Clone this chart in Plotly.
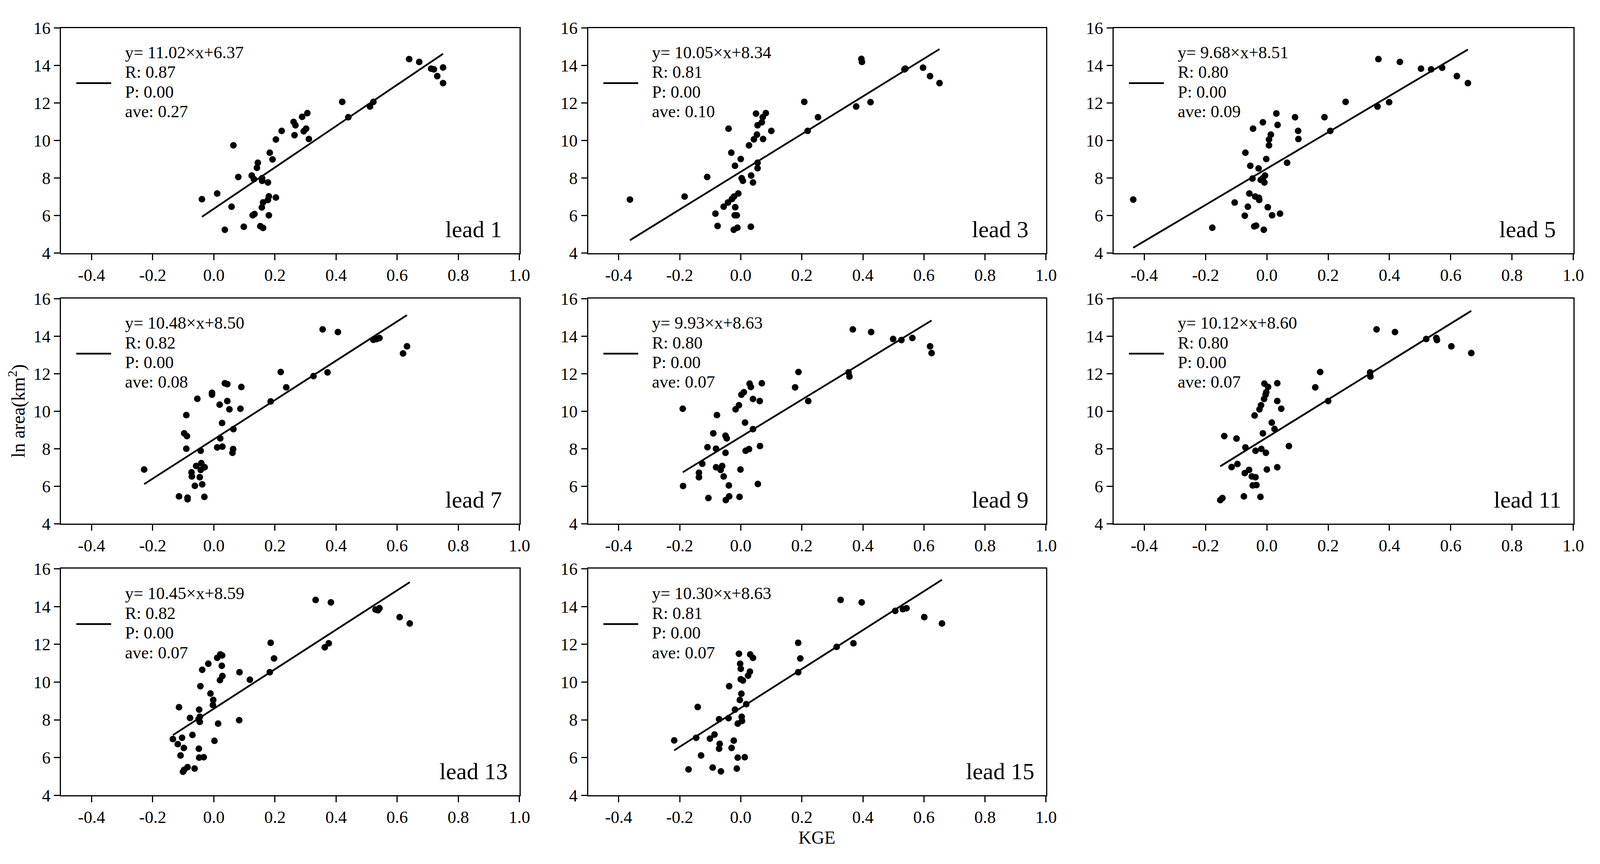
import plotly.graph_objects as go

# KGE (x) and ln area (y) per lead time
kge_1 = [0.639, 0.672, 0.711, 0.720, 0.750, 0.731, 0.750, 0.420, 0.522, 0.511, 0.440, 0.306, 0.289, 0.261, 0.267, 0.302,
         0.294, 0.222, 0.264, 0.311, 0.203, 0.064, 0.183, 0.192, 0.144, 0.141, 0.080, 0.124, 0.131, 0.158, 0.158, 0.177,
         0.011, -0.039, 0.180, 0.203, 0.177, 0.161, 0.058, 0.157, 0.127, 0.133, 0.180, 0.098, 0.036, 0.152, 0.161]
area_1 = [14.35, 14.20, 13.84, 13.80, 13.90, 13.44, 13.07, 12.07, 12.07, 11.82, 11.25, 11.47, 11.27, 11.00, 10.82, 10.64,
          10.50, 10.52, 10.29, 10.09, 10.06, 9.75, 9.36, 9.00, 8.82, 8.55, 8.06, 8.14, 7.95, 8.00, 7.86, 7.77,
          7.18, 6.88, 7.03, 6.97, 6.84, 6.71, 6.48, 6.44, 6.02, 6.09, 6.02, 5.41, 5.25, 5.44, 5.35]

kge_3 = [-0.363, -0.184, -0.110, -0.083, -0.076, -0.056, -0.042, -0.040, -0.031, -0.029, -0.022, -0.019, -0.018, -0.020,
         -0.013, -0.023, -0.011, -0.008, 0.000, 0.003, 0.007, 0.027, 0.034, 0.040, 0.033, 0.043, 0.050, 0.053, 0.055,
         0.055, 0.055, 0.069, 0.072, 0.082, 0.073, 0.100, 0.208, 0.219, 0.253, 0.378, 0.395, 0.397, 0.425, 0.536, 0.539,
         0.597, 0.620, 0.651]
area_3 = [6.86, 7.02, 8.06, 6.11, 5.45, 6.48, 6.70, 10.64, 9.36, 6.89, 7.02, 8.66, 6.45, 6.02, 6.02, 5.25, 5.36, 7.18,
          9.02, 8.00, 7.86, 9.75, 8.14, 7.77, 5.41, 10.07, 11.44, 10.32, 10.82, 8.82, 8.53, 10.98, 11.25, 11.47, 10.09,
          10.52, 12.07, 10.52, 11.25, 11.82, 14.36, 14.20, 12.05, 13.80, 13.84, 13.89, 13.44, 13.07]

kge_5 = [-0.436, -0.178, -0.105, -0.072, -0.070, -0.062, -0.057, -0.054, -0.045, -0.047, -0.041, -0.035, -0.038, -0.026,
         -0.025, -0.027, -0.020, -0.013, -0.013, -0.010, -0.008, -0.006, -0.002, 0.003, 0.007, 0.007, 0.013, 0.017, 0.031,
         0.035, 0.043, 0.066, 0.092, 0.102, 0.103, 0.188, 0.207, 0.257, 0.361, 0.364, 0.399, 0.434, 0.503, 0.536, 0.572,
         0.620, 0.656]
area_5 = [6.86, 5.36, 6.70, 6.00, 9.36, 6.48, 7.18, 8.66, 10.64, 7.98, 5.43, 5.47, 7.02, 6.95, 6.84, 8.52, 7.91, 10.98,
          8.00, 5.25, 7.77, 8.14, 9.02, 6.45, 9.75, 10.06, 10.32, 6.02, 11.45, 10.84, 6.11, 8.82, 11.25, 10.52, 10.09,
          11.25, 10.52, 12.07, 11.82, 14.35, 12.05, 14.20, 13.84, 13.80, 13.89, 13.44, 13.07]

kge_7 = [-0.228, -0.114, -0.086, -0.086, -0.090, -0.097, -0.088, -0.090, -0.073, -0.072, -0.062, -0.058, -0.054, -0.046,
         -0.043, -0.041, -0.043, -0.038, -0.030, -0.031, -0.006, -0.006, 0.011, 0.019, 0.021, 0.027, 0.028, 0.036, 0.044,
         0.044, 0.051, 0.061, 0.063, 0.064, 0.087, 0.090, 0.186, 0.219, 0.237, 0.326, 0.356, 0.372, 0.406, 0.522, 0.533,
         0.542, 0.619, 0.632]
area_7 = [6.89, 5.46, 5.30, 5.39, 9.79, 8.82, 8.67, 8.00, 6.74, 6.52, 6.02, 7.08, 10.66, 6.48, 7.89, 7.23, 6.87, 6.10,
          7.01, 5.43, 10.98, 10.88, 8.07, 10.35, 8.55, 9.37, 8.11, 11.49, 11.44, 10.54, 10.10, 7.78, 7.98, 9.04, 10.13,
          11.29, 10.52, 12.09, 11.27, 11.87, 14.36, 12.07, 14.22, 13.81, 13.85, 13.90, 13.08, 13.46]

kge_9 = [-0.190, -0.189, -0.137, -0.137, -0.126, -0.109, -0.106, -0.090, -0.081, -0.081, -0.078, -0.066, -0.061, -0.056,
         -0.050, -0.046, -0.050, -0.049, -0.039, -0.038, -0.017, -0.006, -0.004, -0.001, 0.002, 0.010, 0.014, 0.016, 0.027,
         0.029, 0.033, 0.040, 0.040, 0.056, 0.062, 0.063, 0.069, 0.178, 0.189, 0.221, 0.353, 0.356, 0.367, 0.427, 0.499,
         0.526, 0.562, 0.620, 0.625]
area_9 = [10.13, 6.01, 6.72, 6.48, 7.20, 8.08, 5.37, 8.82, 8.00, 7.01, 9.79, 6.87, 7.08, 6.52, 8.69, 8.55, 7.78, 5.26,
          6.04, 5.46, 10.10, 10.32, 5.43, 6.89, 10.88, 11.01, 9.39, 7.89, 7.98, 11.47, 11.29, 9.04, 10.65, 6.12, 10.54,
          8.14, 11.49, 11.27, 12.09, 10.54, 12.07, 11.85, 14.36, 14.22, 13.85, 13.79, 13.90, 13.46, 13.10]

kge_11 = [-0.152, -0.145, -0.139, -0.115, -0.099, -0.096, -0.075, -0.072, -0.070, -0.058, -0.049, -0.046, -0.040, -0.037,
          -0.037, -0.034, -0.024, -0.019, -0.021, -0.018, -0.013, -0.009, -0.008, -0.004, -0.003, -0.002, 0.000, 0.004,
          0.016, 0.025, 0.034, 0.034, 0.034, 0.047, 0.072, 0.158, 0.174, 0.200, 0.337, 0.338, 0.358, 0.418, 0.520, 0.553,
          0.555, 0.602, 0.667]
area_11 = [5.26, 5.37, 8.67, 7.02, 8.54, 7.18, 5.46, 6.70, 8.07, 6.87, 6.52, 6.04, 9.77, 7.89, 6.48, 6.06, 10.10, 10.32,
           5.43, 7.99, 8.82, 10.65, 11.47, 10.88, 7.78, 11.01, 6.89, 11.29, 9.39, 9.05, 11.49, 10.54, 7.01, 10.13, 8.14,
           11.27, 12.09, 10.54, 12.07, 11.85, 14.36, 14.22, 13.85, 13.90, 13.79, 13.46, 13.10]

kge_13 = [-0.134, -0.118, -0.114, -0.109, -0.104, -0.098, -0.101, -0.097, -0.086, -0.078, -0.070, -0.063, -0.050, -0.048,
          -0.046, -0.046, -0.049, -0.048, -0.044, -0.038, -0.033, -0.018, -0.011, -0.002, -0.003, 0.002, 0.011, 0.014,
          0.020, 0.021, 0.027, 0.026, 0.028, 0.083, 0.084, 0.118, 0.183, 0.186, 0.197, 0.333, 0.363, 0.376, 0.383, 0.529,
          0.537, 0.542, 0.608, 0.641]
area_13 = [6.98, 6.71, 8.67, 6.11, 7.05, 6.51, 5.25, 5.35, 5.49, 8.10, 7.20, 5.42, 8.03, 8.54, 8.16, 7.89, 6.47, 6.00,
           9.78, 10.65, 6.02, 10.97, 9.39, 9.05, 8.78, 6.89, 11.28, 7.80, 10.10, 11.46, 11.41, 10.86, 10.32, 7.98, 10.52,
           10.12, 10.52, 12.08, 11.25, 14.35, 11.84, 12.05, 14.22, 13.84, 13.80, 13.91, 13.44, 13.10]

kge_15 = [-0.218, -0.171, -0.146, -0.141, -0.130, -0.101, -0.092, -0.086, -0.071, -0.069, -0.071, -0.065, -0.040, -0.038,
          -0.030, -0.023, -0.019, -0.013, -0.010, -0.010, -0.006, -0.003, -0.002, 0.000, 0.000, 0.002, 0.003, 0.004,
          0.007, 0.013, 0.018, 0.024, 0.030, 0.031, 0.040, 0.188, 0.188, 0.195, 0.314, 0.327, 0.369, 0.396, 0.506, 0.531,
          0.543, 0.601, 0.659]
area_15 = [6.91, 5.37, 7.05, 8.68, 6.11, 7.00, 5.47, 7.22, 8.03, 6.73, 6.47, 5.27, 8.09, 9.78, 6.51, 6.90, 8.54, 5.42,
           6.00, 7.80, 11.50, 9.05, 10.97, 10.15, 10.70, 9.38, 8.16, 7.94, 10.08, 6.02, 8.83, 10.34, 10.55, 11.46, 11.28,
           10.52, 12.08, 11.25, 11.86, 14.35, 12.05, 14.22, 13.77, 13.86, 13.91, 13.44, 13.10]

leads = [1, 3, 5, 7, 9, 11, 13, 15]
slopes = [11.02, 10.05, 9.68, 10.48, 9.93, 10.12, 10.45, 10.30]
intercepts = [6.37, 8.34, 8.51, 8.50, 8.63, 8.60, 8.59, 8.63]
r_vals = [0.87, 0.81, 0.80, 0.82, 0.80, 0.80, 0.82, 0.81]
p_vals = [0.00, 0.00, 0.00, 0.00, 0.00, 0.00, 0.00, 0.00]
ave_vals = [0.27, 0.10, 0.09, 0.08, 0.07, 0.07, 0.07, 0.07]

x_ticks = [-0.4, -0.2, 0.0, 0.2, 0.4, 0.6, 0.8, 1.0]
x_tick_labels = ["-0.4", "-0.2", "0.0", "0.2", "0.4", "0.6", "0.8", "1.0"]
y_ticks = [4, 6, 8, 10, 12, 14, 16]

panels = [(kge_1, area_1), (kge_3, area_3), (kge_5, area_5), (kge_7, area_7),
          (kge_9, area_9), (kge_11, area_11), (kge_13, area_13), (kge_15, area_15)]

FONT = "Liberation Serif, DejaVu Serif, serif"
col_dom = [(0.0384, 0.3269), (0.3701, 0.6583), (0.7008, 0.9901)]
row_dom = [(0.7114, 0.9778), (0.3912, 0.6576), (0.0697, 0.3379)]

fig = go.Figure()
annotations = []
shapes = []
layout = {}

for i, (xs, ys) in enumerate(panels):
    n = i + 1
    xa = "x" if n == 1 else "x%d" % n
    ya = "y" if n == 1 else "y%d" % n
    row, col = divmod(i, 3)

    fig.add_trace(go.Scatter(x=xs, y=ys, mode="markers", xaxis=xa, yaxis=ya,
                             marker=dict(size=17, color="black"), showlegend=False))
    x0, x1 = min(xs), max(xs)
    fig.add_trace(go.Scatter(x=[x0, x1], y=[slopes[i] * x0 + intercepts[i], slopes[i] * x1 + intercepts[i]],
                             mode="lines", xaxis=xa, yaxis=ya,
                             line=dict(color="black", width=4.5), showlegend=False))

    axis_style = dict(showline=True, linecolor="black", linewidth=3, mirror=True, ticks="outside",
                      ticklen=15, tickwidth=3, tickcolor="black", showgrid=False, zeroline=False,
                      tickfont=dict(family=FONT, size=44, color="black"))
    layout["xaxis" if n == 1 else "xaxis%d" % n] = dict(
        axis_style, domain=col_dom[col], range=[-0.5, 1.0], anchor=ya,
        tickvals=x_ticks, ticktext=x_tick_labels)
    layout["yaxis" if n == 1 else "yaxis%d" % n] = dict(
        axis_style, domain=row_dom[row], range=[4, 16], anchor=xa, tickvals=y_ticks)

    lines = ["y= %.2f×x+%.2f" % (slopes[i], intercepts[i]), "R: %.2f" % r_vals[i],
             "P: %.2f" % p_vals[i], "ave: %.2f" % ave_vals[i]]
    for k, txt in enumerate(lines):
        annotations.append(dict(x=-0.293, y=14.7 - 1.05 * k, xref=xa, yref=ya, text=txt, showarrow=False,
                                xanchor="left", yanchor="middle",
                                font=dict(family=FONT, size=44, color="black")))
    shapes.append(dict(type="line", xref=xa, yref=ya, x0=-0.45, x1=-0.336, y0=13.07, y1=13.07,
                       line=dict(color="black", width=4.5)))
    annotations.append(dict(x=0.85, y=5.27, xref=xa, yref=ya, text="lead %d" % leads[i], showarrow=False,
                            xanchor="center", yanchor="middle",
                            font=dict(family=FONT, size=60, color="black")))

annotations.append(dict(x=0.5141, y=0.0195, xref="paper", yref="paper", text="KGE", showarrow=False,
                        xanchor="center", yanchor="middle", font=dict(family=FONT, size=46, color="black")))
annotations.append(dict(x=0.0106, y=0.5244, xref="paper", yref="paper", text="ln area(km<sup>2</sup>)",
                        showarrow=False, textangle=-90, xanchor="center", yanchor="middle",
                        font=dict(family=FONT, size=48, color="black")))

fig.update_layout(**layout)
# let the figure fill the browser window instead of a fixed pixel size
fig.update_layout(autosize=True, margin=dict(l=0, r=0, t=0, b=0),
                  paper_bgcolor="white", plot_bgcolor="white",
                  annotations=annotations, shapes=shapes, showlegend=False)

# drop the page margin so the plot covers the whole window
fill_page = ("document.body.style.margin='0';"
             "document.body.style.overflow='hidden';"
             "document.documentElement.style.overflow='hidden';"
             "var gd=document.getElementById('{plot_id}');"
             "gd.style.width='100vw';gd.style.height='100vh';"
             "Plotly.Plots.resize(gd);")
fig.write_html("out.html", post_script=fill_page, config={"displayModeBar": False})
